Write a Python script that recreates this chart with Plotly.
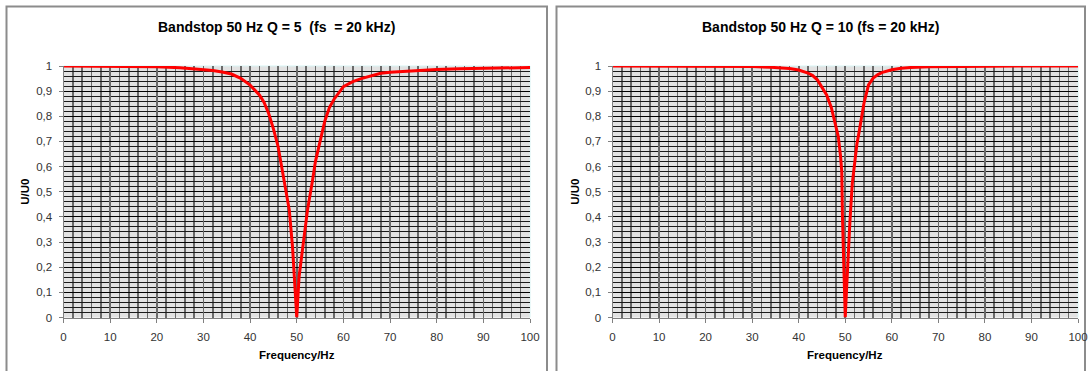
import plotly.graph_objects as go

W, H = 1089, 371

freq_q5 = [0, 5, 10, 15, 20, 25, 30, 32, 34, 36, 38, 40, 42, 43, 44, 45, 46, 47, 47.5, 48.4,
           49.1, 49.45, 49.8, 50, 50.5, 51.25, 52.3, 53.4, 54, 55, 56, 57, 58, 60, 62, 64,
           66, 68, 70, 75, 80, 85, 90, 95, 100]
gain_q5 = [1.0, 1.0, 0.9995, 0.999, 0.997, 0.993, 0.987, 0.982, 0.976, 0.968, 0.951, 0.924,
           0.885, 0.855, 0.81, 0.75, 0.68, 0.58, 0.53, 0.427,
           0.28, 0.162, 0.058, 0.0, 0.162, 0.28, 0.427, 0.547, 0.62, 0.70, 0.78, 0.835, 0.868,
           0.918, 0.938, 0.951, 0.962, 0.971, 0.975, 0.982, 0.986, 0.989, 0.991, 0.993, 0.994]

freq_q10 = [0, 5, 10, 15, 20, 25, 30, 34, 36, 38, 40, 42, 43, 44, 45, 46, 47, 48, 48.5, 49,
            49.25, 49.4, 49.6, 49.8, 50, 50.3, 50.6, 51, 51.5, 52, 52.5, 53, 54, 55, 56, 57,
            58, 60, 62, 64, 68, 75, 80, 90, 100]
gain_q10 = [1.0, 1.0, 1.0, 0.9998, 0.9995, 0.999, 0.998, 0.995, 0.993, 0.99, 0.984, 0.972,
            0.962, 0.945, 0.915, 0.885, 0.835, 0.76, 0.72, 0.64,
            0.58, 0.40, 0.25, 0.14, 0.0, 0.12, 0.25, 0.38, 0.53, 0.62, 0.69, 0.74, 0.85, 0.925,
            0.952, 0.966, 0.975, 0.985, 0.991, 0.994, 0.997, 0.998, 0.999, 1.0, 1.0]

titles = ["Bandstop 50 Hz Q = 5  (fs  = 20 kHz)", "Bandstop 50 Hz Q = 10 (fs = 20 kHz)"]
x_title = "Frequency/Hz"
y_title = "U/U0"

x_ticks = [0, 10, 20, 30, 40, 50, 60, 70, 80, 90, 100]
y_ticks = [0, 0.1, 0.2, 0.3, 0.4, 0.5, 0.6, 0.7, 0.8, 0.9, 1.0]
y_ticktext = ["0", "0,1", "0,2", "0,3", "0,4", "0,5", "0,6", "0,7", "0,8", "0,9", "1"]

# pixel geometry
plots = [(63.5, 530.0), (612.5, 1078.0)]
y_top, y_bot = 66.0, 317.5
panels = [(6.5, 547.0), (556.5, 1085.0)]
ytitle_x = [25.0, 575.0]

def px(x):
    return x / W

def py(y):
    return 1 - y / H

fig = go.Figure()
xs = [freq_q5, freq_q10]
series = [gain_q5, gain_q10]
for i in range(2):
    sfx = "" if i == 0 else str(i + 1)
    fig.add_trace(go.Scatter(x=xs[i], y=series[i], mode="lines",
                             line=dict(color="#FF0000", width=3),
                             xaxis="x" + sfx, yaxis="y" + sfx, showlegend=False,
                             hoverinfo="skip"))

tick_font = dict(family="Liberation Sans, Arial", size=11.5, color="#333333")
axis_common = dict(showline=True, linecolor="#808080", linewidth=1,
                   ticks="outside", ticklen=4, tickcolor="#808080", tickwidth=1,
                   zeroline=False, tickfont=tick_font)

layout = dict(width=W, height=H, margin=dict(l=0, r=0, t=0, b=0, autoexpand=False),
              paper_bgcolor="white", plot_bgcolor="#E2E2E2",
              showlegend=False)

for i in range(2):
    sfx = "" if i == 0 else str(i + 1)
    x0, x1 = plots[i]
    layout["xaxis" + sfx] = dict(
        domain=[px(x0), px(x1)], range=[0, 100], anchor="y" + sfx,
        tickvals=x_ticks, ticktext=[str(t) for t in x_ticks],
        ticklabelstandoff=5,
        showgrid=True, gridcolor="#6A6A6A", gridwidth=1.6,
        minor=dict(tickvals=list(range(2, 100, 2)), showgrid=True,
                   gridcolor="#6A6A6A", gridwidth=1.6, ticks=""),
        **axis_common)
    layout["yaxis" + sfx] = dict(
        domain=[py(y_bot), py(y_top)], range=[0, 1], anchor="x" + sfx,
        tickvals=y_ticks, ticktext=y_ticktext,
        ticklabelstandoff=4,
        showgrid=True, gridcolor="#000000", gridwidth=1,
        minor=dict(dtick=0.02, showgrid=True, gridcolor="#1A1A1A",
                   gridwidth=1, ticks=""),
        **axis_common)

fig.update_layout(**layout)

shapes = []
annotations = []
for i in range(2):
    a, b = panels[i]
    shapes.append(dict(type="rect", xref="paper", yref="paper",
                       x0=px(a), x1=px(b), y0=py(372), y1=py(6.5),
                       line=dict(color="#8C8C8C", width=2), fillcolor="rgba(0,0,0,0)",
                       layer="below"))
    x0, x1 = plots[i]
    shapes.append(dict(type="line", xref="paper", yref="paper",
                       x0=px(x0), x1=px(x1), y0=py(y_top), y1=py(y_top),
                       line=dict(color="#D8F4F4", width=1), layer="below"))
    shapes.append(dict(type="line", xref="paper", yref="paper",
                       x0=px(x1), x1=px(x1), y0=py(y_top), y1=py(y_bot),
                       line=dict(color="#D8F4F4", width=1), layer="below"))
    cx = (x0 + x1) / 2
    pcx = (a + b) / 2
    annotations.append(dict(text="<b>" + titles[i] + "</b>", xref="paper", yref="paper",
                            x=px(pcx), y=py(27), xanchor="center", yanchor="middle",
                            showarrow=False,
                            font=dict(family="Liberation Sans, Arial", size=14, color="#000000")))
    annotations.append(dict(text="<b>" + x_title + "</b>", xref="paper", yref="paper",
                            x=px(cx), y=py(355), xanchor="center", yanchor="middle",
                            showarrow=False,
                            font=dict(family="Liberation Sans, Arial", size=11.5, color="#000000")))
    annotations.append(dict(text="<b>" + y_title + "</b>", xref="paper", yref="paper",
                            x=px(ytitle_x[i]), y=py((y_top + y_bot) / 2), xanchor="center",
                            yanchor="middle", textangle=-90, showarrow=False,
                            font=dict(family="Liberation Sans, Arial", size=11.5, color="#000000")))

fig.update_layout(shapes=shapes, annotations=annotations)
fig.write_html("out.html", config={"displayModeBar": False, "staticPlot": True},
               post_script="document.body.style.margin='0';document.body.style.padding='0';"
                           "document.body.style.overflow='hidden';")
